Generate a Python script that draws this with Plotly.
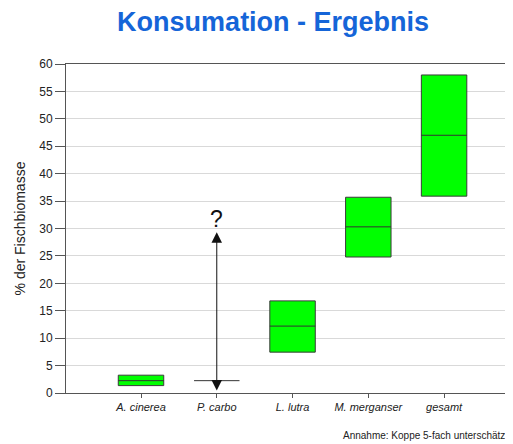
import plotly.graph_objects as go

categories = ["A. cinerea", "P. carbo", "L. lutra", "M. merganser", "gesamt"]
low = [1.35, None, 7.45, 24.8, 35.9]
high = [3.25, None, 16.8, 35.7, 58.0]
median = [2.25, 2.25, 12.2, 30.3, 47.0]
arrow_top = 29.3
arrow_bottom = 0.2
question_y = 31.8
y_ticks = list(range(0, 61, 5))
footer = "Annahme: Koppe 5-fach unterschätzt"

xpos = list(range(len(categories)))
half = 0.3

box_x = [x for x, l in zip(xpos, low) if l is not None]
box_base = [l for l in low if l is not None]
box_h = [h - l for h, l in zip(high, low) if l is not None]

fig = go.Figure()
fig.add_trace(go.Bar(
    x=box_x, y=box_h, base=box_base, width=2 * half,
    marker=dict(color="#00FF00", line=dict(color="#3a3a3a", width=1)),
    hoverinfo="skip", showlegend=False,
))

mx, my = [], []
for x, m in zip(xpos, median):
    mx += [x - half, x + half, None]
    my += [m, m, None]
fig.add_trace(go.Scatter(x=mx, y=my, mode="lines",
                         line=dict(color="#333333", width=1),
                         hoverinfo="skip", showlegend=False))

pc = categories.index("P. carbo")
fig.add_annotation(x=pc, y=arrow_top, ax=pc, ay=arrow_bottom,
                   xref="x", yref="y", axref="x", ayref="y",
                   showarrow=True, arrowside="end+start", arrowhead=2,
                   arrowsize=2.1, arrowwidth=1, arrowcolor="#111111", text="")
fig.add_annotation(x=pc, y=question_y, xref="x", yref="y", text="?",
                   showarrow=False, font=dict(size=23, color="#111111",
                                              family="Liberation Sans, Arial"))
fig.add_annotation(x=1, y=0, xref="paper", yref="paper", xanchor="right",
                   yanchor="bottom", yshift=-50, text=footer, showarrow=False,
                   font=dict(size=10, color="#222222", family="Liberation Sans, Arial"))

fig.update_layout(
    width=505, height=436,
    margin=dict(l=58, r=3, t=56, b=51),
    paper_bgcolor="white", plot_bgcolor="white",
    title=dict(text="<b>Konsumation - Ergebnis</b>", x=0.525, xanchor="center",
               y=1 - 14 / 436, yanchor="middle",
               font=dict(size=27, color="#1565D8", family="Liberation Sans, Arial")),
    font=dict(family="Liberation Sans, Arial", color="#222222"),
    xaxis=dict(range=[-0.99, 4.87], tickmode="array", tickvals=xpos,
               ticktext=["<i>%s</i>" % c for c in categories],
               showline=True, linecolor="#555555", linewidth=1, mirror=True,
               ticks="outside", ticklen=4, tickcolor="#555555",
               showgrid=False, zeroline=False,
               tickfont=dict(size=11, color="#222222")),
    yaxis=dict(range=[0, 60], tickmode="array", tickvals=y_ticks,
               showline=True, linecolor="#555555", linewidth=1,
               ticks="outside", ticklen=10, tickcolor="#555555",
               showgrid=True, gridcolor="#D9D9D9", gridwidth=1, zeroline=False,
               tickfont=dict(size=12, color="#222222"),
               title=dict(text="% der Fischbiomasse", standoff=10,
                          font=dict(size=14, color="#222222"))),
)

fig.write_html("out.html")
